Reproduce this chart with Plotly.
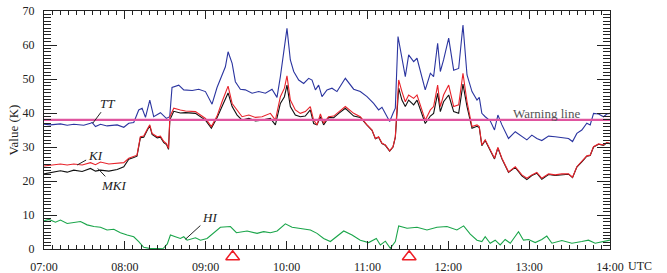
import plotly.graph_objects as go

# ---- data (time in minutes after 07:00 UTC) ----
TT_MIN = [0, 4.8, 12.2, 17.2, 22.1, 29.5, 34.5, 35.7, 38.2, 41.9, 46.8, 54.3, 59.2, 62.9, 66.6, 70.3, 72.8, 75.3,
          78.5, 81.4, 86.4, 90.8, 93.3, 95.0, 100.0, 103.7, 110.0, 114.8, 119.8, 124.7, 128.4, 132.1, 134.6, 136.6,
          139.6, 142.0, 145.7, 149.4, 154.4, 159.3, 164.3, 169.2, 172.9, 175.4, 177.9, 180.3, 182.8, 185.3, 189.0,
          192.7, 196.4, 198.9, 201.4, 203.8, 206.3, 210.0, 213.7, 217.4, 223.6, 229.8, 234.7, 239.7, 244.6, 248.3,
          250.8, 253.3, 256.5, 259.0, 260.7, 262.7, 265.6, 268.1, 270.6, 274.3, 276.8, 282.9, 286.7, 289.1, 292.1,
          294.1, 296.5, 300.3, 304.0, 307.7, 310.9, 313.9, 317.6, 321.3, 323.0, 324.9, 327.4, 331.1, 334.3, 336.8,
          339.8, 344.7, 349.7, 354.6, 358.3, 362.0, 365.7, 369.4, 374.4, 379.3, 384.3, 389.2, 392.2, 395.4, 399.1,
          402.8, 405.3, 407.8, 411.5, 415.2, 417.6, 420.0]
TT_VAL = [36.7, 36.5, 36.8, 36.4, 36.7, 36.4, 37.0, 37.2, 36.0, 36.7, 36.2, 36.5, 35.8, 37.0, 37.2, 40.9, 41.4, 38.7,
          43.8, 38.9, 40.1, 38.4, 38.9, 47.5, 48.2, 46.8, 46.6, 47.0, 46.3, 42.6, 47.5, 51.2, 53.6, 58.0,
          54.6, 49.2, 47.0, 46.8, 45.8, 46.3, 45.8, 47.0, 44.6, 50.7, 58.5, 64.9, 55.6, 52.2, 49.7,
          48.7, 50.2, 49.7, 46.8, 48.2, 44.8, 46.8, 47.3, 46.3, 50.2, 47.0, 46.3, 44.8, 42.8, 40.9,
          41.7, 39.9, 37.5, 39.9, 41.4, 62.5, 55.6, 50.7, 57.1, 55.1, 56.1, 46.8, 51.7, 50.7, 60.5,
          52.2, 55.6, 62.0, 52.6, 53.1, 65.9, 51.2, 46.3, 43.8, 44.6, 39.9, 38.9, 37.7, 35.0, 39.4,
          36.5, 32.5, 34.5, 33.0, 32.1, 33.5, 32.5, 31.9, 33.2, 33.0, 32.8, 32.5, 31.6, 34.0, 35.0,
          37.0, 36.5, 39.9, 39.7, 38.9, 39.7, 39.9]

KI_MIN = [0, 6.1, 12.2, 17.2, 22.1, 28.3, 34.5, 38.2, 41.9, 48.1, 54.3, 59.2, 62.9, 66.6, 69.0, 71.5, 74.0, 77.0,
          78.5, 80.2, 84.0, 86.4, 88.9, 90.9, 92.4, 93.4, 96.3, 101.2, 105.0, 112.4, 119.8, 124.2, 128.4, 132.1,
          136.6, 139.6, 143.3, 147.0, 152.0, 156.9, 161.8, 168.0, 171.7, 175.4, 178.4, 180.3, 182.8, 186.5, 190.2,
          193.9, 197.6, 200.1, 202.6, 205.1, 207.5, 211.2, 215.0, 218.7, 223.6, 229.8, 234.7, 239.7, 243.4, 245.9,
          248.3, 250.8, 253.3, 256.5, 259.0, 260.7, 261.9, 263.2, 265.6, 268.1, 270.6, 274.3, 276.8, 282.9, 286.7,
          289.1, 292.1, 294.1, 296.5, 300.3, 304.0, 307.7, 310.9, 313.9, 317.6, 321.3, 323.0, 324.9, 327.4, 331.1,
          334.3, 336.8, 339.8, 344.7, 349.7, 354.6, 358.3, 362.0, 365.7, 369.4, 374.4, 379.3, 384.3, 389.2, 392.2,
          395.4, 399.1, 402.8, 405.3, 407.8, 411.5, 415.2, 417.6, 420.0]
KI_VAL = [24.4, 24.6, 25.0, 24.7, 25.0, 24.7, 25.4, 24.8, 25.6, 25.0, 25.2, 25.4, 26.7, 27.2, 27.6, 33.0, 33.2, 35.5,
          36.5, 34.0, 33.0, 33.2, 31.6, 31.0, 29.6, 38.9, 41.4, 40.9, 40.6, 40.4, 38.4, 36.0, 39.1, 43.3,
          47.9, 42.8, 40.9, 38.9, 39.4, 38.7, 38.9, 39.9, 37.9, 44.8, 47.3, 50.9, 43.8, 40.9, 39.9,
          40.4, 41.9, 37.9, 36.5, 39.7, 37.0, 38.9, 39.1, 40.4, 41.9, 39.9, 38.9, 36.5, 35.0, 32.5,
          33.0, 31.1, 30.6, 28.9, 30.1, 33.0, 40.9, 49.7, 46.3, 43.3, 45.3, 44.3, 45.3, 37.9, 40.9,
          41.9, 48.2, 41.9, 45.3, 48.2, 41.9, 42.4, 51.7, 43.3, 36.0, 36.5, 36.0, 30.6, 32.1, 29.1,
          26.7, 29.9, 26.7, 22.7, 24.2, 21.8, 20.8, 21.8, 22.5, 20.8, 22.1, 21.8, 22.1, 22.1, 21.1,
          24.2, 25.7, 27.4, 27.6, 30.1, 30.9, 30.6, 31.3, 31.1]

MKI_MIN = KI_MIN
MKI_VAL = [22.1, 22.5, 23.0, 22.6, 23.2, 22.8, 23.7, 22.9, 23.2, 22.9, 23.4, 24.2, 26.4, 26.9, 27.3, 32.7, 32.9, 35.2,
           36.2, 33.7, 32.7, 32.9, 31.3, 30.7, 29.3, 38.0, 40.5, 40.0, 40.1, 39.9, 37.9, 35.5, 38.6, 41.9,
           45.9, 41.9, 39.4, 37.9, 38.4, 37.7, 37.9, 38.4, 36.5, 42.8, 44.8, 48.2, 41.9, 39.4, 38.9,
           39.1, 40.9, 36.9, 36.5, 38.9, 36.5, 38.7, 38.6, 39.9, 41.4, 39.1, 38.7, 36.4, 34.9, 32.4,
           32.9, 31.0, 30.5, 28.8, 30.0, 32.8, 40.4, 47.3, 43.8, 41.9, 43.8, 42.4, 43.8, 36.9, 39.1,
           39.9, 45.8, 40.4, 43.3, 45.3, 40.4, 39.9, 48.5, 41.9, 35.5, 36.1, 35.7, 30.4, 31.9, 28.9,
           26.5, 29.7, 26.5, 22.5, 24.0, 21.5, 20.4, 21.6, 22.3, 20.5, 21.9, 21.6, 21.9, 22.0, 21.0,
           24.1, 25.6, 27.3, 27.5, 30.0, 30.8, 30.5, 31.2, 31.0]

HI_MIN = [0, 3.6, 8.5, 12.2, 17.2, 22.1, 27.1, 32.0, 37.0, 41.9, 46.8, 51.8, 56.7, 61.7, 66.6, 70.3, 74.0, 79.0,
          83.9, 88.6, 91.5, 93.8, 97.5, 101.2, 103.7, 106.2, 112.4, 116.1, 121.0, 126.0, 130.9, 138.3, 142.8,
          150.7, 158.1, 163.0, 168.0, 173.0, 179.1, 184.1, 190.2, 197.7, 202.6, 207.5, 212.5, 217.5, 222.4,
          228.6, 234.7, 240.9, 246.6, 249.6, 253.3, 257.0, 260.7, 263.2, 265.6, 269.4, 276.8, 284.2, 291.6,
          299.0, 306.4, 311.4, 316.3, 321.3, 324.9, 327.4, 331.1, 334.8, 338.5, 342.2, 346.0, 348.4, 352.1,
          355.8, 359.6, 364.5, 369.4, 373.1, 376.9, 384.3, 391.7, 399.1, 404.0, 409.0, 413.9, 420.0]
HI_VAL = [8.3, 8.7, 7.9, 8.5, 7.5, 7.9, 8.1, 7.1, 6.6, 6.4, 5.6, 5.8, 4.8, 4.1, 3.6, 2.2, 0.5, 0.1,
          0.1, 0.2, 1.5, 4.1, 3.6, 3.1, 3.6, 2.6, 3.3, 2.6, 3.1, 4.8, 6.4, 6.6, 4.8,
          5.3, 4.6, 5.1, 4.8, 5.3, 7.4, 6.4, 6.1, 5.6, 4.6, 3.1, 2.2, 3.8, 5.3,
          4.1, 2.6, 1.9, 3.1, 1.2, 2.3, 0.2, 2.2, 6.8, 6.6, 6.1, 6.4, 5.6, 6.4,
          6.6, 5.6, 6.8, 4.4, 2.6, 2.2, 3.6, 1.7, 2.6, 1.2, 2.8, 1.7, 3.1, 5.1,
          2.6, 2.8, 1.9, 2.8, 3.8, 1.7, 2.5, 1.7, 2.2, 2.6, 1.7, 2.2, 2.6]

WARNING_LEVEL = 38
EVENT_MIN = [140, 271]
TICK_MIN = [0, 60, 120, 180, 240, 300, 360, 420]
TICK_TEXT = ["07:00", "08:00", "09:00", "10:00", "11:00", "12:00", "13:00", "14:00"]

FONT = "Liberation Serif"
INK = "#222222"

# layout geometry: plot area spans y=11..263 px; main panel y=11..249, event strip below
M_T, M_B = 11, 10
PLOT_H = 273 - M_T - M_B
MAIN_BOTTOM = (263 - 249) / PLOT_H

fig = go.Figure()
fig.add_trace(go.Scatter(x=HI_MIN, y=HI_VAL, mode="lines", line=dict(color="#1aa54a", width=1.1), name="HI"))
fig.add_trace(go.Scatter(x=TT_MIN, y=TT_VAL, mode="lines", line=dict(color="#2b35a0", width=1.1), name="TT"))
fig.add_trace(go.Scatter(x=MKI_MIN, y=MKI_VAL, mode="lines", line=dict(color="#111111", width=1.1), name="MKI"))
fig.add_trace(go.Scatter(x=KI_MIN, y=KI_VAL, mode="lines", line=dict(color="#e8232b", width=1.1), name="KI"))
fig.add_trace(go.Scatter(x=[0, 420], y=[WARNING_LEVEL, WARNING_LEVEL], mode="lines",
                         line=dict(color="#e0559f", width=2.2), name="Warning"))
# event markers in a thin strip below the main panel
fig.add_trace(go.Scatter(x=EVENT_MIN, y=[0.45] * len(EVENT_MIN), mode="markers", xaxis="x", yaxis="y3",
                         marker=dict(symbol="triangle-up-open", size=12, color="#ee1c25",
                                     line=dict(width=1.5, color="#ee1c25")), name="events"))
# empty trace to activate mirrored tick axes
fig.add_trace(go.Scatter(x=[], y=[], xaxis="x2", yaxis="y2", showlegend=False))

lab_font = dict(family=FONT, size=13, color=INK)
ann = [
    dict(x=36.2, y=37.0, ax=15, ay=-20, text="<i>TT</i>"),
    dict(x=24.6, y=24.7, ax=18, ay=-10, text="<i>KI</i>"),
    dict(x=39.9, y=23.7, ax=16, ay=17, text="<i>MKI</i>"),
    dict(x=104.9, y=2.85, ax=24, ay=-22, text="<i>HI</i>"),
]
annotations = []
for a in ann:
    annotations.append(dict(xref="x", yref="y", showarrow=True, arrowhead=0, arrowwidth=1,
                            arrowcolor=INK, font=lab_font, **a))
annotations.append(dict(xref="x", yref="y", x=373, y=40, text="Warning line", showarrow=False,
                        font=dict(family=FONT, size=13, color="#555")))
annotations.append(dict(xref="x", yref="paper", x=420, y=-0.01, xshift=16, xanchor="left", yanchor="middle",
                        text="UTC", showarrow=False, font=dict(family=FONT, size=12, color=INK)))

xcommon = dict(range=[0, 420], tickmode="array", tickvals=TICK_MIN,
               ticks="inside", ticklen=8, tickwidth=1, tickcolor=INK,
               minor=dict(tickmode="linear", tick0=0, dtick=6, ticks="inside", ticklen=4, tickcolor=INK),
               showgrid=False, zeroline=False, automargin=False)
ycommon = dict(range=[0, 70], tickmode="linear", dtick=10, tick0=0,
               ticks="inside", ticklen=13, tickwidth=1, tickcolor=INK,
               minor=dict(dtick=1, ticks="inside", ticklen=7, tickcolor=INK),
               showgrid=False, zeroline=False, domain=[MAIN_BOTTOM, 1], automargin=False)

fig.update_layout(
    width=667, height=273,
    margin=dict(l=44, r=57, t=M_T, b=M_B),
    paper_bgcolor="white", plot_bgcolor="white",
    showlegend=False,
    font=dict(family=FONT, size=12, color=INK),
    annotations=annotations,
    xaxis=dict(**xcommon, ticktext=TICK_TEXT, anchor="y", showline=True, linecolor=INK, linewidth=1.3,
               mirror=True, ticklabelstandoff=6,
               tickfont=dict(family=FONT, size=12, color=INK)),
    xaxis2=dict(**xcommon, overlaying="x", side="top", anchor="y2", showticklabels=False, showline=False),
    yaxis=dict(**ycommon, anchor="x", showline=True, linecolor=INK, linewidth=1.3, mirror=True,
               ticklabelstandoff=6,
               tickfont=dict(family=FONT, size=12, color=INK),
               title=dict(text="Value (K)", font=dict(family=FONT, size=13, color=INK), standoff=0)),
    yaxis2=dict(**ycommon, overlaying="y", side="right", anchor="x2", showticklabels=False, showline=False),
    yaxis3=dict(domain=[0, MAIN_BOTTOM], range=[0, 1], visible=False, anchor="x", fixedrange=True,
                automargin=False),
)

fig.write_html("out.html", config={"displayModeBar": False},
               post_script="document.body.style.margin='0';document.body.style.padding='0';")
